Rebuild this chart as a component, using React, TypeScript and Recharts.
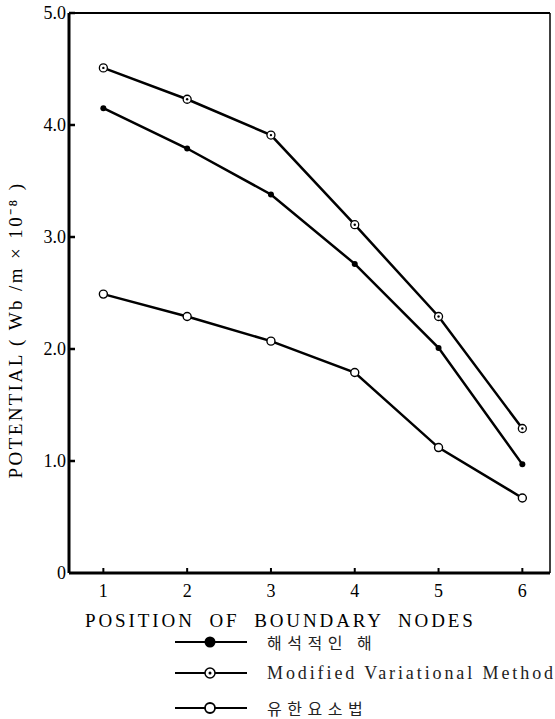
import { LineChart, Line, XAxis, YAxis, ReferenceLine, Label } from 'recharts';

// node positions along the boundary
const nodes = [1, 2, 3, 4, 5, 6];
// analytic solution (해석적인 해)
const analytic = [4.15, 3.79, 3.38, 2.76, 2.01, 0.97];
// modified variational method
const modified = [4.51, 4.23, 3.91, 3.11, 2.29, 1.29];
// finite element method (유한요소법)
const fem = [2.49, 2.29, 2.07, 1.79, 1.12, 0.67];

const yTicks = [0, 1, 2, 3, 4, 5];
const xDomain = [0.59, 6.33];

const data = nodes.map((n, i) => ({ node: n, analytic: analytic[i], modified: modified[i], fem: fem[i] }));

const SERIF = 'Liberation Serif, Times New Roman, serif';

const YTick = (props: any) => {
  const { x, y, payload } = props;
  const v = payload.value;
  return (
    <g>
      {v !== 0 && <line x1={x + 3} x2={x + 9} y1={y} y2={y} stroke="#000" strokeWidth={2.5} />}
      <text x={x} y={y} dy={6} textAnchor="end" fontFamily={SERIF} fontSize={18} fill="#000">
        {v === 0 ? '0' : v.toFixed(1)}
      </text>
    </g>
  );
};

const XTick = (props: any) => {
  const { x, y, payload } = props;
  return (
    <g>
      <line x1={x} x2={x} y1={y} y2={y - 5} stroke="#000" strokeWidth={2} />
      <text x={x} y={y + 24} textAnchor="middle" fontFamily={SERIF} fontSize={18} fill="#000">
        {payload.value}
      </text>
    </g>
  );
};

const DotFilled = (props: any) => {
  const { cx, cy } = props;
  if (cx == null || cy == null) return null;
  return <circle cx={cx} cy={cy} r={3} fill="#000" stroke="none" />;
};

const DotTarget = (props: any) => {
  const { cx, cy } = props;
  if (cx == null || cy == null) return null;
  return (
    <g>
      <circle cx={cx} cy={cy} r={4} fill="#fff" stroke="#000" strokeWidth={1.3} />
      <circle cx={cx} cy={cy} r={1.2} fill="#000" />
    </g>
  );
};

const DotOpen = (props: any) => {
  const { cx, cy } = props;
  if (cx == null || cy == null) return null;
  return <circle cx={cx} cy={cy} r={4} fill="#fff" stroke="#000" strokeWidth={1.4} />;
};

const legendRows = [
  { key: 'analytic', label: '해석적인 해', korean: true },
  { key: 'modified', label: 'Modified Variational Method', korean: false },
  { key: 'fem', label: '유한요소법', korean: true },
];

const LegendMarker = ({ kind }: { kind: string }) => (
  <svg width={76} height={14} style={{ display: 'block' }}>
    <line x1={2} x2={74} y1={7} y2={7} stroke="#000" strokeWidth={2} />
    {kind === 'analytic' && <circle cx={37} cy={7} r={5.5} fill="#000" />}
    {kind === 'modified' && (
      <g>
        <circle cx={37} cy={7} r={5} fill="#fff" stroke="#000" strokeWidth={1.5} />
        <circle cx={37} cy={7} r={1.5} fill="#000" />
      </g>
    )}
    {kind === 'fem' && <circle cx={37} cy={7} r={5} fill="#fff" stroke="#000" strokeWidth={1.8} />}
  </svg>
);

const ChartLegend = () => (
  <div style={{ position: 'absolute', left: 173, top: 635, width: 400, height: 90 }}>
    {legendRows.map((row, i) => (
      <div
        key={row.key}
        style={{ position: 'absolute', left: 0, top: [0, 31, 66][i], display: 'flex', alignItems: 'center' }}
      >
        <LegendMarker kind={row.key} />
        <span
          style={{
            marginLeft: 18,
            fontFamily: row.korean ? '"Noto Sans CJK KR", sans-serif' : SERIF,
            fontSize: row.korean ? 16 : 18,
            letterSpacing: row.korean ? 5.5 : 2.9,
            color: '#222',
            lineHeight: '14px',
            whiteSpace: 'nowrap',
          }}
        >
          {row.label}
        </span>
      </div>
    ))}
  </div>
);

export default function App() {
  return (
    <div style={{ position: 'absolute', left: 0, top: 0, width: 555, height: 719, background: '#fff' }}>
      <LineChart width={555} height={719} data={data} margin={{ top: 13, right: 5, left: 0, bottom: 0 }}>
        <XAxis
          dataKey="node"
          type="number"
          domain={xDomain}
          ticks={nodes}
          allowDataOverflow
          height={146}
          tickSize={0}
          tickMargin={0}
          tickLine={false}
          tick={XTick}
          axisLine={{ stroke: '#000', strokeWidth: 3 }}
        >
          <Label
            content={() => (
              <text x={85} y={627} fontFamily={SERIF} fontSize={19} letterSpacing={2.9} wordSpacing={7} fill="#000">
                POSITION OF BOUNDARY NODES
              </text>
            )}
          />
        </XAxis>
        <YAxis
          type="number"
          domain={[0, 5]}
          ticks={yTicks}
          width={69}
          tickSize={0}
          tickMargin={3}
          tickLine={false}
          tick={YTick}
          axisLine={{ stroke: '#000', strokeWidth: 3 }}
        >
          <Label
            content={() => (
              <text
                x={22}
                y={330}
                transform="rotate(-90 22 330)"
                textAnchor="middle"
                fontFamily={SERIF}
                fontSize={19}
                letterSpacing={2.4}
                fill="#000"
              >
                POTENTIAL ( Wb /m × 10⁻⁸ )
              </text>
            )}
          />
        </YAxis>
        <ReferenceLine y={5} stroke="#000" strokeWidth={2} />
        <ReferenceLine x={6.33} stroke="#000" strokeWidth={1.5} />
        <Line
          dataKey="analytic"
          stroke="#000"
          strokeWidth={2.5}
          dot={DotFilled}
          activeDot={false}
          isAnimationActive={false}
        />
        <Line
          dataKey="modified"
          stroke="#000"
          strokeWidth={2.5}
          dot={DotTarget}
          activeDot={false}
          isAnimationActive={false}
        />
        <Line
          dataKey="fem"
          stroke="#000"
          strokeWidth={2.5}
          dot={DotOpen}
          activeDot={false}
          isAnimationActive={false}
        />
      </LineChart>
      <ChartLegend />
    </div>
  );
}
